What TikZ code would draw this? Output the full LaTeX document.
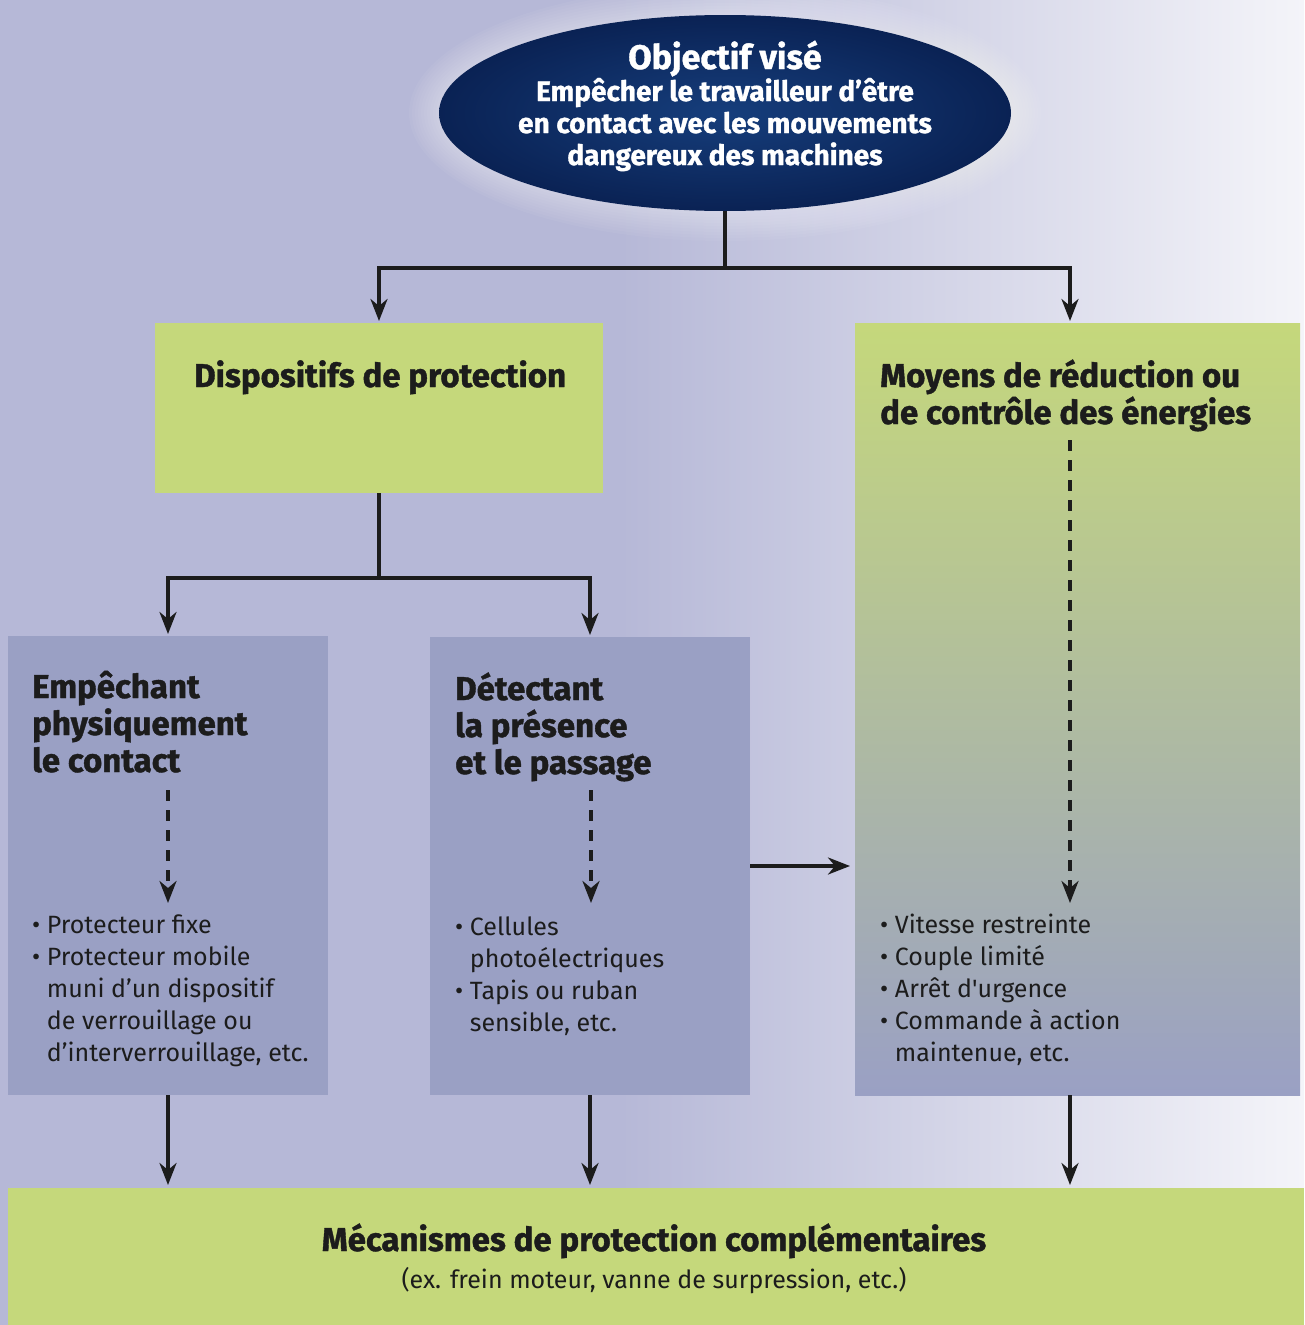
\documentclass[tikz,border=0pt]{standalone}
\usepackage{fontspec}
\setmainfont{Fira Sans}[BoldFeatures={FakeBold=1.2}]
\usetikzlibrary{arrows.meta, positioning, shapes.geometric}

\definecolor{bglav}{RGB}{182,184,215}
\definecolor{bglight}{RGB}{244,244,249}
\definecolor{leaf}{RGB}{197,216,123}
\definecolor{boxlav}{RGB}{154,160,196}
\definecolor{navy}{RGB}{10,34,84}
\definecolor{navyin}{RGB}{22,62,124}
\definecolor{ink}{RGB}{28,28,28}

\tikzset{
  panel/.style={rectangle, inner sep=0pt, outer sep=0pt, anchor=north west},
  leafbox/.style={panel, fill=leaf},
  lavbox/.style={panel, fill=boxlav},
  title/.style={font=\fontsize{33}{37}\selectfont\bfseries, text=ink, align=left, anchor=base west, inner sep=0pt},
  items/.style={font=\fontsize{25}{32}\selectfont, text=ink, align=left, anchor=base west, inner sep=0pt},
  link/.style={draw=ink, line width=3.5pt},
  arrow/.style={link, -{Stealth[length=22pt, width=17pt, inset=7pt]}},
  dasharrow/.style={arrow, dash pattern=on 11pt off 9pt},
}

\newcommand{\gap}{\phantom{•\ }}

\begin{document}
\begin{tikzpicture}[x=1pt, y=-1pt]
  \useasboundingbox (0,0) rectangle (1304,1325);

  % Background
  \fill[bglav] (0,0) rectangle (1304,1325);
  \shade[left color=bglav, right color=bglight] (620,0) rectangle (1304,1325);

  % Goal
  \foreach \r in {1,...,10}
    \fill[white, opacity=0.045] (725,113) ellipse ({286pt+3pt*\r} and {98pt+3pt*\r});
  \node[ellipse, minimum width=572pt, minimum height=196pt, inner sep=0pt,
        inner color=navyin, outer color=navy] (goal) at (725,113) {};
  \node[font=\fontsize{34}{37}\selectfont\bfseries, text=white, anchor=base, inner sep=0pt]
        (goalHead) at (725,69) {Objectif visé};
  \node[font=\fontsize{28}{32}\selectfont\bfseries, text=white, align=center, anchor=base, inner sep=0pt]
        (goalTxt) at (725,165) {Empêcher le travailleur d’être\\en contact avec les mouvements\\dangereux des machines};

  % Boxes
  \node[leafbox, minimum width=448pt, minimum height=170pt] (disp) at (155,323) {};
  \node[panel, top color=leaf, bottom color=boxlav, minimum width=445pt, minimum height=772pt] (energy) at (855,323) {};
  \node[lavbox, minimum width=320pt, minimum height=459pt] (physic) at (8,636) {};
  \node[lavbox, minimum width=320pt, minimum height=458pt] (detect) at (430,637) {};
  \node[leafbox, minimum width=1296pt, minimum height=137pt] (mech) at (8,1188) {};

  % Titles
  \node[title] (dispTxt) at (194,387) {Dispositifs de protection};
  \node[title] (energyTxt) at (880,424) {Moyens de réduction ou\\de contrôle des énergies};
  \node[title] (physicTxt) at (32,772) {Empêchant\\physiquement\\le contact};
  \node[title] (detectTxt) at (455,774) {Détectant\\la présence\\et le passage};

  % Lists
  \node[items] (physicList) at (32,1061) {• Protecteur fixe\\• Protecteur mobile\\\gap muni d’un dispositif\\\gap de verrouillage ou\\\gap d’interverrouillage, etc.};
  \node[items] (detectList) at (455,1031) {• Cellules\\\gap photoélectriques\\• Tapis ou ruban\\\gap sensible, etc.};
  \node[items] (energyList) at (880,1061) {• Vitesse restreinte\\• Couple limité\\• Arrêt d\textquotesingle urgence\\• Commande à action\\\gap maintenue, etc.};

  \node[font=\fontsize{33}{37}\selectfont\bfseries, text=ink, anchor=base, inner sep=0pt] (mechTxt) at (654,1251) {Mécanismes de protection complémentaires};
  \node[font=\fontsize{25}{32}\selectfont, text=ink, anchor=base, inner sep=0pt] (mechSub) at (654,1288) {(ex. frein moteur, vanne de surpression, etc.)};

  % Connectors
  \coordinate (energyIn) at (1070,323);
  \coordinate (energyOut) at (1070,1095);
  \draw[link] (goal.south) -- ++(0,57) coordinate (split1);
  \draw[arrow, shorten >=2pt] (split1) -| (disp.north);
  \draw[arrow, shorten >=2pt] (split1) -| (energyIn);
  \draw[link] (disp.south) -- ++(0,85) coordinate (split2);
  \draw[arrow, shorten >=2pt] (split2) -| (physic.north);
  \draw[arrow, shorten >=2pt] (split2) -| (detect.north);

  \coordinate (physicDash) at (168,790);
  \coordinate (physicArrow) at (168,903);
  \coordinate (detectDash) at (591,790);
  \coordinate (detectArrow) at (591,903);
  \coordinate (energyDash) at (1070,440);
  \coordinate (energyArrow) at (1070,903);
  \draw[dasharrow] (physicDash) -- (physicArrow);
  \draw[dasharrow] (detectDash) -- (detectArrow);
  \draw[dasharrow] (energyDash) -- (energyArrow);

  \draw[arrow, shorten >=5pt] (detect.east) -- (detect.east -| energy.west);

  \draw[arrow, shorten >=3pt] (physic.south) -- (physic.south |- mech.north);
  \draw[arrow, shorten >=3pt] (detect.south) -- (detect.south |- mech.north);
  \draw[arrow, shorten >=3pt] (energyOut) -- (energyOut |- mech.north);
\end{tikzpicture}
\end{document}
